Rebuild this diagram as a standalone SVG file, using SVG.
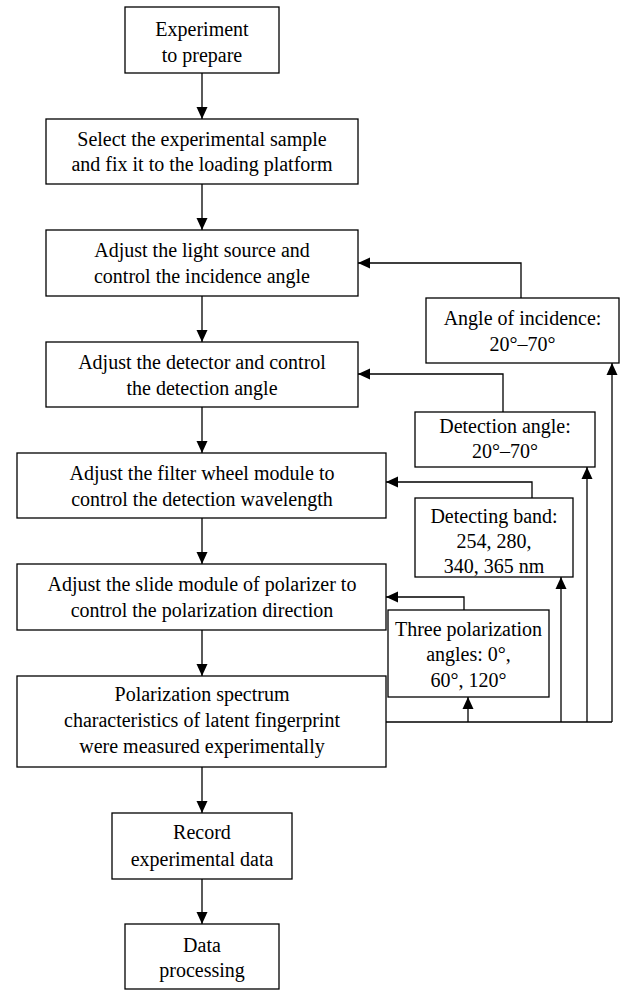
<svg xmlns="http://www.w3.org/2000/svg" width="621" height="990" viewBox="0 0 621 990">
<defs>
<marker id="ah" viewBox="0 0 12 12" refX="12" refY="6" markerWidth="12" markerHeight="12" markerUnits="userSpaceOnUse" orient="auto">
<path d="M0,0.5 L12,6 L0,11.5 z" fill="#000"/>
</marker>
<style>
.box{fill:#fff;stroke:#000;stroke-width:1.3}
.c{fill:none;stroke:#000;stroke-width:1.3}
.a{marker-end:url(#ah)}
</style>
</defs>
<rect x="0" y="0" width="621" height="990" fill="#fff"/>
<g id="connectors">
<path class="c a" d="M202,73 V119"/>
<path class="c a" d="M202,184 V230"/>
<path class="c a" d="M202,296 V342"/>
<path class="c a" d="M202,407 V453"/>
<path class="c a" d="M202,518 V564"/>
<path class="c a" d="M202,630 V676"/>
<path class="c a" d="M202,767 V813"/>
<path class="c a" d="M202,879 V924"/>
<path class="c a" d="M521,298 V263 H358"/>
<path class="c a" d="M503,412 V374 H358"/>
<path class="c a" d="M532,498 V482 H386"/>
<path class="c a" d="M464,610 V597 H386"/>
<path class="c" d="M386,722 H612"/>
<path class="c a" d="M468,722 V697"/>
<path class="c a" d="M561,722 V577"/>
<path class="c a" d="M587,722 V467"/>
<path class="c a" d="M612,722 V363"/>
</g>
<g id="n1"><rect class="box" x="125" y="7" width="154" height="66"/><text font-family="Liberation Serif" font-size="20" text-anchor="middle" x="202" y="36">Experiment</text><text font-family="Liberation Serif" font-size="20" text-anchor="middle" x="202" y="62">to prepare</text></g>
<g id="n2"><rect class="box" x="46" y="119" width="312" height="65"/><text font-family="Liberation Serif" font-size="20" text-anchor="middle" x="202" y="146">Select the experimental sample</text><text font-family="Liberation Serif" font-size="20" text-anchor="middle" x="202" y="171">and fix it to the loading platform</text></g>
<g id="n3"><rect class="box" x="46" y="230" width="312" height="66"/><text font-family="Liberation Serif" font-size="20" text-anchor="middle" x="202" y="257">Adjust the light source and</text><text font-family="Liberation Serif" font-size="20" text-anchor="middle" x="202" y="283">control the incidence angle</text></g>
<g id="n4"><rect class="box" x="46" y="342" width="312" height="65"/><text font-family="Liberation Serif" font-size="20" text-anchor="middle" x="202" y="369">Adjust the detector and control</text><text font-family="Liberation Serif" font-size="20" text-anchor="middle" x="202" y="395">the detection angle</text></g>
<g id="n5"><rect class="box" x="17" y="453" width="369" height="65"/><text font-family="Liberation Serif" font-size="20" text-anchor="middle" x="202" y="480">Adjust the filter wheel module to</text><text font-family="Liberation Serif" font-size="20" text-anchor="middle" x="202" y="506">control the detection wavelength</text></g>
<g id="n6"><rect class="box" x="17" y="564" width="369" height="66"/><text font-family="Liberation Serif" font-size="20" text-anchor="middle" x="202" y="591">Adjust the slide module of polarizer to</text><text font-family="Liberation Serif" font-size="20" text-anchor="middle" x="202" y="617">control the polarization direction</text></g>
<g id="n7"><rect class="box" x="17" y="676" width="369" height="91"/><text font-family="Liberation Serif" font-size="20" text-anchor="middle" x="202" y="701">Polarization spectrum</text><text font-family="Liberation Serif" font-size="20" text-anchor="middle" x="202" y="727">characteristics of latent fingerprint</text><text font-family="Liberation Serif" font-size="20" text-anchor="middle" x="202" y="753">were measured experimentally</text></g>
<g id="n8"><rect class="box" x="112" y="813" width="180" height="66"/><text font-family="Liberation Serif" font-size="20" text-anchor="middle" x="202" y="839">Record</text><text font-family="Liberation Serif" font-size="20" text-anchor="middle" x="202" y="866">experimental data</text></g>
<g id="n9"><rect class="box" x="125" y="924" width="154" height="65"/><text font-family="Liberation Serif" font-size="20" text-anchor="middle" x="202" y="952">Data</text><text font-family="Liberation Serif" font-size="20" text-anchor="middle" x="202" y="977">processing</text></g>
<g id="r1"><rect class="box" x="426" y="298" width="193" height="65"/><text font-family="Liberation Serif" font-size="20" text-anchor="middle" x="522.5" y="325">Angle of incidence:</text><text font-family="Liberation Serif" font-size="20" text-anchor="middle" x="522.5" y="351">20°–70°</text></g>
<g id="r2"><rect class="box" x="415" y="412" width="180" height="55"/><text font-family="Liberation Serif" font-size="20" text-anchor="middle" x="505" y="433">Detection angle:</text><text font-family="Liberation Serif" font-size="20" text-anchor="middle" x="505" y="458">20°–70°</text></g>
<g id="r3"><rect class="box" x="415" y="498" width="158" height="79"/><text font-family="Liberation Serif" font-size="20" text-anchor="middle" x="494" y="523">Detecting band:</text><text font-family="Liberation Serif" font-size="20" text-anchor="middle" x="494" y="548">254, 280,</text><text font-family="Liberation Serif" font-size="20" text-anchor="middle" x="494" y="573">340, 365 nm</text></g>
<g id="r4"><rect class="box" x="388" y="610" width="161" height="87"/><text font-family="Liberation Serif" font-size="20" text-anchor="middle" x="468.5" y="636">Three polarization</text><text font-family="Liberation Serif" font-size="20" text-anchor="middle" x="468.5" y="661">angles: 0°,</text><text font-family="Liberation Serif" font-size="20" text-anchor="middle" x="468.5" y="687">60°, 120°</text></g>
</svg>
